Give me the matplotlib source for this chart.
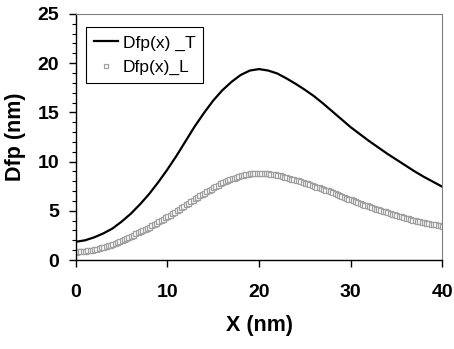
import numpy as np
import matplotlib.pyplot as plt
from matplotlib.ticker import MultipleLocator

# Dfp(x)_T at every 1 nm
x_t = np.arange(0, 41, 1)
dfp_t = [1.85, 2.0, 2.3, 2.7, 3.2, 3.9, 4.7, 5.65, 6.7, 7.9,
         9.2, 10.6, 12.1, 13.6, 14.95, 16.2, 17.25, 18.1, 18.8, 19.25,
         19.4, 19.25, 18.95, 18.45, 17.9, 17.3, 16.65, 15.9, 15.1, 14.3,
         13.5, 12.8, 12.1, 11.45, 10.8, 10.2, 9.6, 9.0, 8.45, 7.95,
         7.45]

# Dfp(x)_L, markers every 0.25 nm
dfp_l = [0.85, 0.87, 0.89, 0.92, 0.95, 0.98, 1.02, 1.06,
         1.10, 1.16, 1.22, 1.28, 1.35, 1.42, 1.50, 1.57,
         1.65, 1.75, 1.85, 1.95, 2.05, 2.15, 2.25, 2.35,
         2.45, 2.57, 2.70, 2.82, 2.95, 3.06, 3.17, 3.29,
         3.40, 3.54, 3.68, 3.81, 3.95, 4.07, 4.20, 4.32,
         4.45, 4.60, 4.75, 4.90, 5.05, 5.20, 5.35, 5.50,
         5.65, 5.81, 5.98, 6.14, 6.30, 6.44, 6.58, 6.71,
         6.85, 6.99, 7.13, 7.26, 7.40, 7.53, 7.65, 7.78,
         7.90, 8.00, 8.10, 8.20, 8.30, 8.38, 8.45, 8.53,
         8.60, 8.65, 8.70, 8.75, 8.80, 8.82, 8.84, 8.86,
         8.88, 8.87, 8.85, 8.84, 8.82, 8.78, 8.74, 8.69,
         8.65, 8.59, 8.53, 8.46, 8.40, 8.34, 8.28, 8.21,
         8.15, 8.08, 8.00, 7.93, 7.85, 7.78, 7.70, 7.63,
         7.55, 7.46, 7.38, 7.29, 7.20, 7.14, 7.08, 7.01,
         6.95, 6.84, 6.73, 6.61, 6.50, 6.41, 6.33, 6.24,
         6.15, 6.06, 5.98, 5.89, 5.80, 5.71, 5.63, 5.54,
         5.45, 5.38, 5.30, 5.23, 5.15, 5.08, 5.00, 4.93,
         4.85, 4.78, 4.70, 4.63, 4.55, 4.49, 4.43, 4.36,
         4.30, 4.24, 4.18, 4.11, 4.05, 4.00, 3.95, 3.90,
         3.85, 3.80, 3.75, 3.70, 3.65, 3.61, 3.56, 3.52,
         3.47]
x_l = np.linspace(0, 40, len(dfp_l))

plt.rcParams['font.family'] = ['Liberation Sans', 'DejaVu Sans']

fig = plt.figure(figsize=(4.54, 3.49), dpi=100)
ax = fig.add_axes([0.167, 0.255, 0.807, 0.705])

ax.plot(x_t, dfp_t, color='black', lw=1.6, label='Dfp(x) _T')
ax.plot(x_l, dfp_l, ls='none', marker='s', ms=3.6, mfc='white',
        mec='#a0a0a0', mew=0.9, label='Dfp(x)_L')

ax.set_xlim(0, 40)
ax.set_ylim(0, 25)
ax.xaxis.set_major_locator(MultipleLocator(10))
ax.yaxis.set_major_locator(MultipleLocator(5))
ax.yaxis.set_minor_locator(MultipleLocator(1))
ax.tick_params(axis='both', which='major', direction='out', length=5,
               width=1, labelsize=14)
ax.tick_params(axis='x', which='major', pad=12)
ax.tick_params(axis='y', which='major', pad=7)
ax.tick_params(axis='y', which='minor', direction='out', length=3, width=0.8)
for lab in ax.get_xticklabels() + ax.get_yticklabels():
    lab.set_fontweight('bold')

ax.spines['left'].set_linewidth(1.0)
ax.spines['bottom'].set_linewidth(1.0)
ax.spines['top'].set_color('#808080')
ax.spines['right'].set_color('#808080')

ax.set_xlabel('X (nm)', fontsize=15.5, fontweight='bold', labelpad=10)
ax.set_ylabel('Dfp (nm)', fontsize=15.5, fontweight='bold', labelpad=8)

leg = ax.legend(loc='upper left', bbox_to_anchor=(0.027, 0.945), fontsize=12.5,
                fancybox=False, edgecolor='black', framealpha=1,
                handlelength=1.4, handletextpad=0.3, borderpad=0.45,
                labelspacing=0.55, borderaxespad=0, markerscale=0.8)
leg.get_frame().set_linewidth(0.8)

fig.savefig('out.png', dpi=100)
